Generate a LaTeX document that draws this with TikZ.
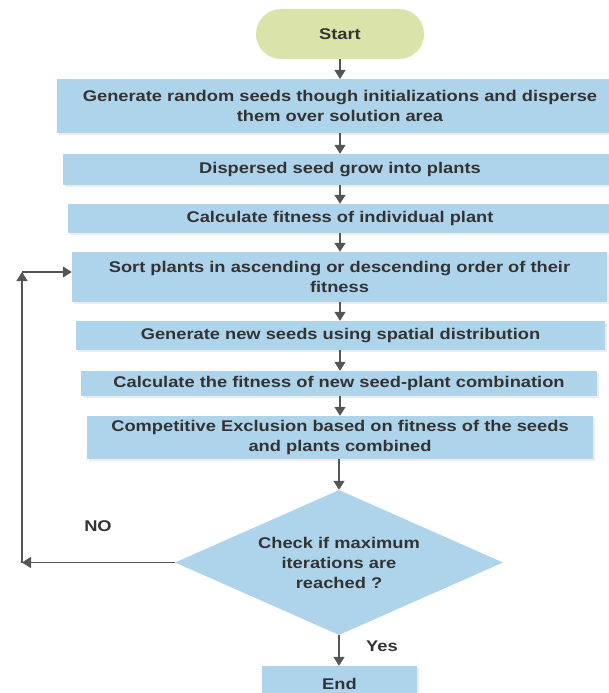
\documentclass[tikz,border=0pt]{standalone}
\usepackage{fontspec}
\setmainfont{Liberation Sans}[FakeStretch=1.18]
\usetikzlibrary{arrows.meta,shapes.geometric,shadows}
\definecolor{boxblue}{RGB}{174,212,236}
\definecolor{pillgreen}{RGB}{217,227,170}
\definecolor{txt}{RGB}{51,51,51}
\definecolor{arr}{RGB}{85,85,85}
\tikzset{
  stepbox/.style={rectangle, fill=boxblue, inner sep=0pt, align=center,
    font=\fontsize{15.5}{20}\selectfont\bfseries, text=txt,
    drop shadow={shadow xshift=1.5pt, shadow yshift=-1.5pt, opacity=0.15}},
  pill/.style={rectangle, rounded corners=25pt, fill=pillgreen, inner sep=0pt,
    font=\fontsize{15.5}{20}\selectfont\bfseries, text=txt},
  decision/.style={diamond, fill=boxblue, inner sep=0pt, align=center, aspect=2.26,
    font=\fontsize{15.5}{20}\selectfont\bfseries, text=txt},
  flow/.style={draw=arr, line width=1.4pt, -{Triangle[width=11pt,length=9pt]}},
  lbl/.style={font=\fontsize{15.5}{20}\selectfont\bfseries, text=txt, inner sep=0pt}
}
\begin{document}
\begin{tikzpicture}[x=1pt,y=-1pt]
\useasboundingbox (0,0) rectangle (609,693);
\clip (0,0) rectangle (609,693);
\node[pill, minimum width=168pt, minimum height=50pt] (start) at (340,34) {Start};
\node[stepbox, minimum width=566pt, minimum height=54pt] (b1) at (340,106) {Generate random seeds though initializations and disperse\\them over solution area};
\node[stepbox, minimum width=554pt, minimum height=31pt] (b2) at (340,169.5) {Dispersed seed grow into plants};
\node[stepbox, minimum width=544pt, minimum height=29pt] (b3) at (340,218.5) {Calculate fitness of individual plant};
\node[stepbox, minimum width=535pt, minimum height=50pt] (b4) at (339.5,277) {Sort plants in ascending or descending order of their\\fitness};
\node[stepbox, minimum width=529pt, minimum height=29pt] (b5) at (340.5,335.5) {Generate new seeds using spatial distribution};
\node[stepbox, minimum width=516pt, minimum height=25pt] (b6) at (339,383.5) {Calculate the fitness of new seed-plant combination};
\node[stepbox, minimum width=506pt, minimum height=43pt] (b7) at (340,437.5) {Competitive Exclusion based on fitness of the seeds\\and plants combined};
\node[decision, minimum width=328pt, minimum height=145pt] (d) at (339,562.5) {Check if maximum\\iterations are\\reached ?};
\node[stepbox, minimum width=155pt, minimum height=36pt] (end) at (339.5,684) {End};
\coordinate (c1) at (22,562.5);
\coordinate (c2) at (22,272);
\node[lbl] (no) at (98,526) {NO};
\node[lbl] (yes) at (382,646) {Yes};
\draw[flow] (start.south) -- (340,79);
\draw[flow] (b1.south -| start) -- (b2.north -| start);
\draw[flow] (b2.south -| start) -- (b3.north -| start);
\draw[flow] (b3.south -| start) -- (b4.north -| start);
\draw[flow] (b4.south -| start) -- (b5.north -| start);
\draw[flow] (b5.south -| start) -- (b6.north -| start);
\draw[flow] (b6.south -| start) -- (b7.north -| start);
\draw[flow] (b7.south -| d) -- (d.north);
\draw[flow] (d.south) -- (end.north -| d);
\draw[flow] (d.west) -- (c1);
\draw[flow] (c1) -- (c2);
\draw[flow] (c2) -- (b4.west |- c2);
\end{tikzpicture}
\end{document}
